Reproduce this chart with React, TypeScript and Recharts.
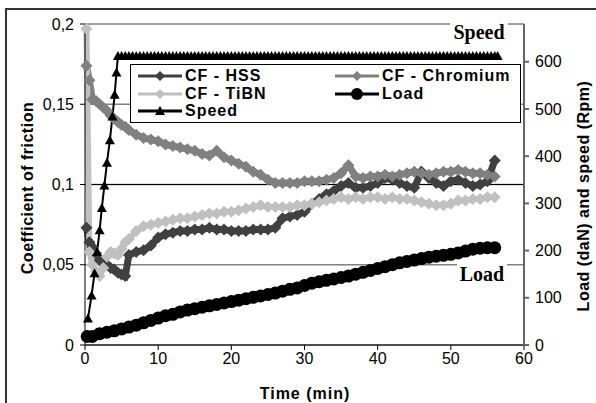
import React from 'react';
import { LineChart, Line, XAxis, YAxis, CartesianGrid, ReferenceLine } from 'recharts';

// time (min) for the friction series
const timeCf = [
  0.2, 0.6, 1, 1.5, 2, 2.5, 3, 3.5, 4, 4.5, 5, 5.5,
  6, 7, 8, 9, 10, 11, 12, 13, 14, 15, 16, 17, 18, 19, 20, 21, 22, 23, 24, 25,
  26, 27, 28, 29, 30, 31, 32, 33, 34, 35, 36, 37, 38, 39, 40, 41, 42, 43, 44, 45,
  46, 47, 48, 49, 50, 51, 52, 53, 54, 55, 56,
];

const cfHss = [
  0.073, 0.064, 0.061, 0.057, 0.053, 0.051, 0.05, 0.048, 0.047, 0.045, 0.044, 0.043,
  0.056, 0.058, 0.059, 0.062, 0.067, 0.069, 0.07, 0.071, 0.071, 0.072, 0.072, 0.073, 0.072, 0.072, 0.071, 0.071, 0.071, 0.072, 0.072, 0.072,
  0.073, 0.079, 0.08, 0.081, 0.083, 0.088, 0.091, 0.094, 0.096, 0.099, 0.101, 0.098, 0.098, 0.099, 0.101, 0.104, 0.103, 0.101, 0.099, 0.098,
  0.108, 0.104, 0.101, 0.099, 0.102, 0.103, 0.101, 0.099, 0.1, 0.102, 0.115,
];

const cfChromium = [
  0.174, 0.165, 0.153, 0.152, 0.15, 0.148, 0.146, 0.143, 0.141, 0.139, 0.137, 0.136,
  0.134, 0.131, 0.129, 0.128, 0.127, 0.125, 0.124, 0.123, 0.122, 0.121, 0.119, 0.118, 0.121, 0.117, 0.115, 0.113, 0.111, 0.108, 0.106, 0.103,
  0.101, 0.101, 0.101, 0.101, 0.102, 0.102, 0.102, 0.103, 0.104, 0.107, 0.112, 0.105, 0.104, 0.105, 0.105, 0.106, 0.105, 0.106, 0.107, 0.108,
  0.107, 0.106, 0.107, 0.108, 0.108, 0.109, 0.108, 0.107, 0.107, 0.106, 0.105,
];

const cfTibn = [
  0.197, 0.058, 0.05, 0.046, 0.043, 0.048, 0.055, 0.058, 0.057, 0.056, 0.06, 0.064,
  0.066, 0.071, 0.074, 0.075, 0.076, 0.077, 0.078, 0.079, 0.079, 0.08, 0.081, 0.082, 0.082, 0.083, 0.083, 0.084, 0.085, 0.086, 0.087, 0.086,
  0.086, 0.086, 0.086, 0.087, 0.087, 0.088, 0.089, 0.09, 0.091, 0.092, 0.091, 0.092, 0.091, 0.092, 0.092, 0.091, 0.092, 0.091, 0.091, 0.09,
  0.089, 0.088, 0.087, 0.087, 0.088, 0.09, 0.09, 0.091, 0.091, 0.092, 0.092,
];

// load (daN)
const timeLoad = [
  0.3, 1, 2, 3, 4, 5, 6, 7, 8, 9, 10, 11, 12, 13, 14, 15, 16, 17, 18, 19, 20,
  21, 22, 23, 24, 25, 26, 27, 28, 29, 30, 31, 32, 33, 34, 35, 36, 37, 38, 39, 40,
  41, 42, 43, 44, 45, 46, 47, 48, 49, 50, 51, 52, 53, 54, 55, 56,
];
const load = [
  18, 18, 24, 27, 30, 34, 38, 42, 47, 52, 57, 62, 65, 70, 74, 77, 80, 83, 86, 89, 92,
  95, 98, 101, 104, 107, 110, 114, 118, 121, 126, 131, 134, 137, 140, 143, 146, 150, 154, 158, 162,
  166, 170, 174, 177, 180, 183, 186, 188, 190, 192, 195, 199, 203, 205, 206, 206,
];

// speed (rpm)
const timeSpeed = [
  0.4, 0.9, 1.3, 1.65, 2, 2.3, 2.65, 3, 3.4, 3.75, 4.05, 4.3,
  4.5, 5, 5.5, 6, 6.5, 7, 7.5, 8, 8.5, 9, 9.5, 10, 10.5, 11, 11.5, 12, 12.5, 13, 13.5, 14, 14.5,
  15, 15.5, 16, 16.5, 17, 17.5, 18, 18.5, 19, 19.5, 20, 20.5, 21, 21.5, 22, 22.5, 23, 23.5, 24, 24.5,
  25, 25.5, 26, 26.5, 27, 27.5, 28, 28.5, 29, 29.5, 30, 30.5, 31, 31.5, 32, 32.5, 33, 33.5, 34, 34.5,
  35, 35.5, 36, 36.5, 37, 37.5, 38, 38.5, 39, 39.5, 40, 40.5, 41, 41.5, 42, 42.5, 43, 43.5, 44, 44.5,
  45, 45.5, 46, 46.5, 47, 47.5, 48, 48.5, 49, 49.5, 50, 50.5, 51, 51.5, 52, 52.5, 53, 53.5, 54, 54.5,
  55, 55.5, 56, 56.4,
];
const speed = [
  56, 105, 152, 197, 243, 290, 338, 386, 434, 484, 530, 577,
  612, 612, 612, 612, 612, 612, 612, 612, 612, 612, 612, 612, 612, 612, 612, 612, 612, 612, 612, 612, 612,
  612, 612, 612, 612, 612, 612, 612, 612, 612, 612, 612, 612, 612, 612, 612, 612, 612, 612, 612, 612,
  612, 612, 612, 612, 612, 612, 612, 612, 612, 612, 612, 612, 612, 612, 612, 612, 612, 612, 612, 612,
  612, 612, 612, 612, 612, 612, 612, 612, 612, 612, 612, 612, 612, 612, 612, 612, 612, 612, 612, 612,
  612, 612, 612, 612, 612, 612, 612, 612, 612, 612, 612, 612, 612, 612, 612, 612, 612, 612, 612, 612,
  612, 612, 612, 612,
];

const xTicks = [0, 10, 20, 30, 40, 50, 60];
const cfTicks = [0, 0.05, 0.1, 0.15, 0.2];
const rpmTicks = [0, 100, 200, 300, 400, 500, 600];

const toRows = (ts: number[], vs: number[]) => ts.map((t, i) => ({ t, v: vs[i] }));

const hssData = toRows(timeCf, cfHss);
const chromiumData = toRows(timeCf, cfChromium);
const tibnData = toRows(timeCf, cfTibn);
const loadData = toRows(timeLoad, load);
const speedData = toRows(timeSpeed, speed);

const C_HSS = '#404040';
const C_CHROM = '#808080';
const C_TIBN = '#c0c0c0';

const SANS = '"Liberation Sans", Arial, sans-serif';
const SERIF = '"Liberation Serif", "Times New Roman", serif';

const diamondPath = (cx: number, cy: number, s: number) =>
  `M${cx},${cy - s}L${cx + s},${cy}L${cx},${cy + s}L${cx - s},${cy}Z`;
const trianglePath = (cx: number, cy: number) =>
  `M${cx},${cy - 5}L${cx + 5},${cy + 4}L${cx - 5},${cy + 4}Z`;

const diamondDot = (fill: string) => (p: any) => (
  <path key={`dm-${p.index}`} d={diamondPath(p.cx, p.cy, 6)} fill={fill} />
);
const triangleDot = (p: any) => (
  <path key={`tr-${p.index}`} d={trianglePath(p.cx, p.cy)} fill="#000" />
);
const circleDot = (p: any) => (
  <circle key={`ci-${p.index}`} cx={p.cx} cy={p.cy} r={6.5} fill="#000" />
);

const fmtCf = (v: number) => String(v).replace('.', ',');

const LegendMark = ({ color, kind }: { color: string; kind: 'diamond' | 'circle' | 'triangle' }) => (
  <svg width={44} height={16} style={{ position: 'absolute', left: 0, top: 0 }}>
    <line x1={0} y1={8} x2={44} y2={8} stroke={color} strokeWidth={3} />
    {kind === 'diamond' && <path d={diamondPath(22, 8, 5)} fill={color} />}
    {kind === 'circle' && <circle cx={22} cy={8} r={6} fill={color} />}
    {kind === 'triangle' && <path d={trianglePath(22, 8)} fill={color} />}
  </svg>
);

const legendItems = [
  { name: 'CF - HSS', color: C_HSS, kind: 'diamond' as const, col: 0, row: 0 },
  { name: 'CF - Chromium', color: C_CHROM, kind: 'diamond' as const, col: 1, row: 0 },
  { name: 'CF - TiBN', color: C_TIBN, kind: 'diamond' as const, col: 0, row: 1 },
  { name: 'Load', color: '#000', kind: 'circle' as const, col: 1, row: 1 },
  { name: 'Speed', color: '#000', kind: 'triangle' as const, col: 0, row: 2 },
];

const ChartLegend = () => (
  <div
    style={{
      position: 'absolute', left: 130, top: 64, width: 389, height: 57,
      border: '1px solid #000', background: '#fff',
    }}
  >
    {legendItems.map((it) => (
      <div
        key={it.name}
        style={{
          position: 'absolute', left: 7 + it.col * 197, top: 3 + it.row * 17.5,
          height: 16, width: 185,
        }}
      >
        <LegendMark color={it.color} kind={it.kind} />
        <span
          style={{
            position: 'absolute', left: 47, top: -1, fontFamily: SANS, fontWeight: 'bold',
            fontSize: 16, lineHeight: '18px', letterSpacing: 1, whiteSpace: 'nowrap',
          }}
        >
          {it.name}
        </span>
      </div>
    ))}
  </div>
);

const App: React.FC = () => {
  return (
    <div
      style={{
        position: 'absolute', left: 0, top: 0, width: 596, height: 403,
        background: '#fff', overflow: 'hidden', fontFamily: SANS,
      }}
    >
      <div
        style={{
          position: 'absolute', left: 5, top: 8, width: 700, height: 500,
          borderLeft: '2px solid #333', borderTop: '2px solid #333',
        }}
      />
      <LineChart
        width={596}
        height={403}
        margin={{ top: 24, right: 42, bottom: 28, left: 35 }}
        style={{ position: 'absolute', left: 0, top: 0 }}
      >
        <CartesianGrid yAxisId="cf" horizontal vertical={false} stroke="#808080" strokeWidth={1.5} />
        <ReferenceLine yAxisId="cf" y={0.1} stroke="#000" strokeWidth={1} />
        <XAxis
          dataKey="t"
          type="number"
          domain={[0, 60]}
          ticks={xTicks}
          allowDuplicatedCategory={false}
          stroke="#000"
          tickSize={5}
          tickMargin={3}
          height={30}
          tick={{ fill: '#000', fontSize: 16, fontFamily: SANS }}
        />
        <YAxis
          yAxisId="cf"
          domain={[0, 0.2]}
          ticks={cfTicks}
          tickFormatter={fmtCf}
          stroke="#000"
          tickSize={5}
          tickMargin={6}
          width={50}
          tick={{ fill: '#000', fontSize: 16, fontFamily: SANS }}
        />
        <YAxis
          yAxisId="rpm"
          orientation="right"
          domain={[0, 680]}
          ticks={rpmTicks}
          stroke="#666"
          strokeWidth={2}
          tickSize={5}
          tickMargin={6}
          width={30}
          tick={{ fill: '#000', fontSize: 16, fontFamily: SANS }}
        />
        <Line
          yAxisId="cf"
          data={hssData}
          dataKey="v"
          name="CF - HSS"
          stroke={C_HSS}
          strokeWidth={7}
          dot={diamondDot(C_HSS)}
          isAnimationActive={false}
        />
        <Line
          yAxisId="cf"
          data={chromiumData}
          dataKey="v"
          name="CF - Chromium"
          stroke={C_CHROM}
          strokeWidth={7}
          dot={diamondDot(C_CHROM)}
          isAnimationActive={false}
        />
        <Line
          yAxisId="cf"
          data={tibnData}
          dataKey="v"
          name="CF - TiBN"
          stroke={C_TIBN}
          strokeWidth={6}
          dot={diamondDot(C_TIBN)}
          isAnimationActive={false}
        />
        <Line
          yAxisId="rpm"
          data={loadData}
          dataKey="v"
          name="Load"
          stroke="#000"
          strokeWidth={9}
          dot={circleDot}
          isAnimationActive={false}
        />
        <Line
          yAxisId="rpm"
          data={speedData}
          dataKey="v"
          name="Speed"
          stroke="#000"
          strokeWidth={2}
          dot={triangleDot}
          isAnimationActive={false}
        />
      </LineChart>

      <ChartLegend />

      <div
        style={{
          position: 'absolute', left: 450, top: 20, width: 58, height: 25, background: '#fff',
          fontFamily: SERIF, fontWeight: 'bold', fontSize: 20, lineHeight: '25px', textAlign: 'center',
        }}
      >
        Speed
      </div>
      <div
        style={{
          position: 'absolute', left: 457, top: 262, width: 50, height: 24, background: '#fff',
          fontFamily: SERIF, fontWeight: 'bold', fontSize: 20, lineHeight: '24px', textAlign: 'center',
        }}
      >
        Load
      </div>

      <div
        style={{
          position: 'absolute', left: 305, top: 394, transform: 'translate(-50%, -50%)',
          fontWeight: 'bold', fontSize: 16, letterSpacing: 1, whiteSpace: 'nowrap',
        }}
      >
        Time (min)
      </div>
      <div
        style={{
          position: 'absolute', left: 28, top: 188, transform: 'translate(-50%, -50%) rotate(-90deg)',
          fontWeight: 'bold', fontSize: 16, letterSpacing: 0.5, whiteSpace: 'nowrap',
        }}
      >
        Coefficient of friction
      </div>
      <div
        style={{
          position: 'absolute', left: 584, top: 196, transform: 'translate(-50%, -50%) rotate(-90deg)',
          fontWeight: 'bold', fontSize: 16, letterSpacing: 0.5, whiteSpace: 'nowrap',
        }}
      >
        Load (daN) and speed (Rpm)
      </div>
    </div>
  );
};

export default App;
